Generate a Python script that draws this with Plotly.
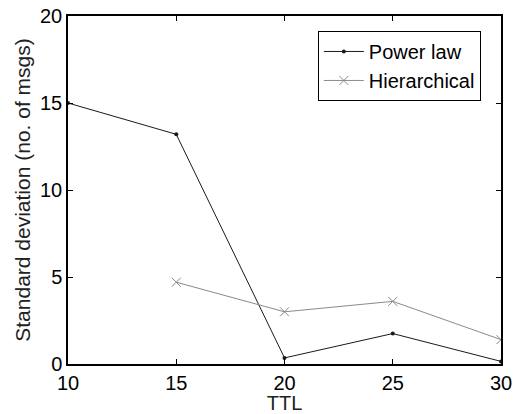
import plotly.graph_objects as go

ttl = [10, 15, 20, 25, 30]
power_law = [15.0, 13.2, 0.35, 1.75, 0.15]
ttl_h = [15, 20, 25, 30]
hierarchical = [4.7, 3.0, 3.6, 1.4]
x_ticks = [10, 15, 20, 25, 30]
y_ticks = [0, 5, 10, 15, 20]

FONT = "Liberation Sans, Arial, sans-serif"

fig = go.Figure()
fig.add_trace(go.Scatter(x=ttl, y=power_law, mode="lines+markers", name="Power law",
                         line=dict(color="#1a1a1a", width=1),
                         marker=dict(symbol="circle", size=4, color="#1a1a1a")))
fig.add_trace(go.Scatter(x=ttl_h, y=hierarchical, mode="lines+markers", name="Hierarchical",
                         line=dict(color="#8a8a8a", width=1),
                         marker=dict(symbol="x-thin", size=9, line=dict(color="#8a8a8a", width=1), color="#8a8a8a")))

axis_common = dict(showgrid=False, zeroline=False, showline=True, linecolor="black", linewidth=1.5,
                   mirror="ticks", ticks="inside", ticklen=5, tickcolor="black", automargin=False,
                   tickfont=dict(family=FONT, size=20, color="black"))
fig.update_xaxes(range=[10, 30], tickvals=x_ticks, title=dict(text="TTL", standoff=0,
                 font=dict(family=FONT, size=20, color="#222")), **axis_common)
fig.update_yaxes(range=[0, 20], tickvals=y_ticks, title=dict(text="Standard deviation (no. of msgs)", standoff=4,
                 font=dict(family=FONT, size=21, color="#222")), **axis_common)

fig.update_layout(
    width=514, height=414,
    margin=dict(l=68, r=13, t=16, b=50),
    paper_bgcolor="white", plot_bgcolor="white",
    legend=dict(x=0.577, y=0.957, xanchor="left", yanchor="top",
                bordercolor="black", borderwidth=1, bgcolor="white",
                font=dict(family=FONT, size=20, color="black"),
                tracegroupgap=0, itemwidth=40),
    showlegend=True,
)
fig.write_html("out.html")
